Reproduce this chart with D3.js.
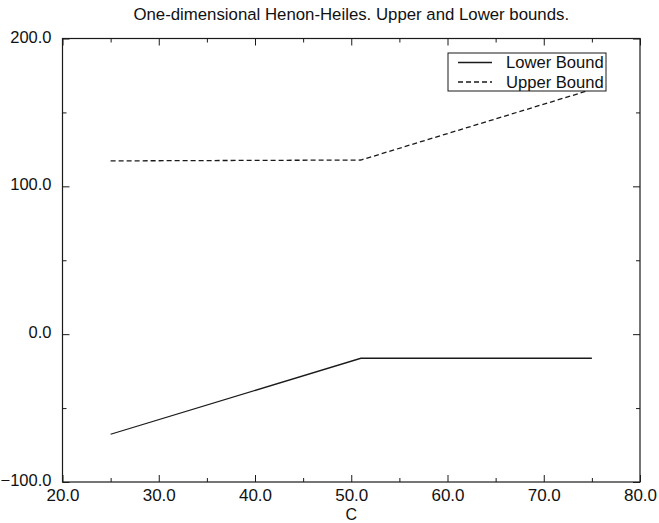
<!DOCTYPE html>
<html><head><meta charset="utf-8">
<script src="https://cdn.jsdelivr.net/npm/d3@7"></script>
<style>body{margin:0;background:#fff;} text{font-family:"Liberation Sans",Arial,Helvetica,sans-serif;fill:#111;}</style>
</head><body>
<svg id="c" width="659" height="523"></svg>
<script>
const cValues = [25, 51, 75];
const lowerBound = [-67.7, -16.3, -16.3];
const upperBound = [117.2, 117.8, 165.5];
const xTicks = [20, 30, 40, 50, 60, 70, 80];
const xMinor = [25, 35, 45, 55, 65, 75];
const yTicks = [-100, 0, 100, 200];
const yMinor = [-50, 50, 150];
const seriesNames = ["Lower Bound", "Upper Bound"];
const title = "One-dimensional Henon-Heiles. Upper and Lower bounds.";
const xLabel = "C";

const L = 62.5, R = 640, T = 38.5, B = 482;
const svg = d3.select("#c");
const x = d3.scaleLinear().domain([20, 80]).range([L, R]);
const y = d3.scaleLinear().domain([-100, 200]).range([B, T]);
const fmt = d3.format(".1f");
const ink = "#1a1a1a";

// frame
svg.append("rect").attr("x", L).attr("y", T).attr("width", R - L).attr("height", B - T)
  .attr("fill", "none").attr("stroke", ink).attr("stroke-width", 1.2);

// bottom axis ticks inward
const bx = d3.axisBottom(x).tickValues(xTicks).tickSizeInner(-7).tickSizeOuter(0).tickFormat(fmt).tickPadding(10);
const gB = svg.append("g").attr("transform", `translate(0,${B})`).call(bx);
gB.select(".domain").remove();
gB.selectAll("line").attr("stroke", ink);
gB.selectAll("text").attr("font-size", 17).attr("dy", "0.71em").attr("y", 7);
svg.append("g").attr("transform", `translate(0,${B})`)
  .call(d3.axisBottom(x).tickValues(xMinor).tickSizeInner(-4).tickSizeOuter(0).tickFormat(""))
  .call(g => { g.select(".domain").remove(); g.selectAll("line").attr("stroke", ink); });
// top axis ticks
svg.append("g").attr("transform", `translate(0,${T})`)
  .call(d3.axisTop(x).tickValues(xTicks).tickSizeInner(-7).tickSizeOuter(0).tickFormat(""))
  .call(g => { g.select(".domain").remove(); g.selectAll("line").attr("stroke", ink); });
svg.append("g").attr("transform", `translate(0,${T})`)
  .call(d3.axisTop(x).tickValues(xMinor).tickSizeInner(-4).tickSizeOuter(0).tickFormat(""))
  .call(g => { g.select(".domain").remove(); g.selectAll("line").attr("stroke", ink); });

// left axis
const gL = svg.append("g").attr("transform", `translate(${L},0)`)
  .call(d3.axisLeft(y).tickValues(yTicks).tickSizeInner(-7).tickSizeOuter(0).tickFormat(fmt).tickPadding(20));
gL.select(".domain").remove();
gL.selectAll("line").attr("stroke", ink);
gL.selectAll("text").attr("font-size", 16.5).attr("x", -11).attr("dy", "0.22em");
svg.append("g").attr("transform", `translate(${L},0)`)
  .call(d3.axisLeft(y).tickValues(yMinor).tickSizeInner(-4).tickSizeOuter(0).tickFormat(""))
  .call(g => { g.select(".domain").remove(); g.selectAll("line").attr("stroke", ink); });
// right axis
svg.append("g").attr("transform", `translate(${R},0)`)
  .call(d3.axisRight(y).tickValues(yTicks).tickSizeInner(-7).tickSizeOuter(0).tickFormat(""))
  .call(g => { g.select(".domain").remove(); g.selectAll("line").attr("stroke", ink); });
svg.append("g").attr("transform", `translate(${R},0)`)
  .call(d3.axisRight(y).tickValues(yMinor).tickSizeInner(-4).tickSizeOuter(0).tickFormat(""))
  .call(g => { g.select(".domain").remove(); g.selectAll("line").attr("stroke", ink); });

// lines
const line = d3.line().x(d => x(d[0])).y(d => y(d[1]));
svg.append("path").datum(cValues.map((c, i) => [c, lowerBound[i]]))
  .attr("d", line).attr("fill", "none").attr("stroke", ink).attr("stroke-width", 1.3);
svg.append("path").datum(cValues.map((c, i) => [c, upperBound[i]]))
  .attr("d", line).attr("fill", "none").attr("stroke", ink).attr("stroke-width", 1.3)
  .attr("stroke-dasharray", "5,3");

// title & x label
svg.append("text").attr("x", (L + R) / 2).attr("y", 20).attr("text-anchor", "middle")
  .attr("font-size", 16.8).text(title);
svg.append("text").attr("x", (L + R) / 2).attr("y", 520).attr("text-anchor", "middle")
  .attr("font-size", 16).text(xLabel);

// legend
const lg = svg.append("g");
lg.append("rect").attr("x", 448).attr("y", 53).attr("width", 158).attr("height", 38)
  .attr("fill", "#fff").attr("stroke", ink).attr("stroke-width", 1);
seriesNames.forEach((n, i) => {
  const yy = 62.5 + i * 19.5;
  lg.append("line").attr("x1", 458).attr("x2", 492).attr("y1", yy).attr("y2", yy)
    .attr("stroke", ink).attr("stroke-width", 1.3).attr("stroke-dasharray", i ? "5,3" : null);
  lg.append("text").attr("x", 506).attr("y", yy + 5.5).attr("font-size", 16.6).text(n);
});
</script>
</body></html>
